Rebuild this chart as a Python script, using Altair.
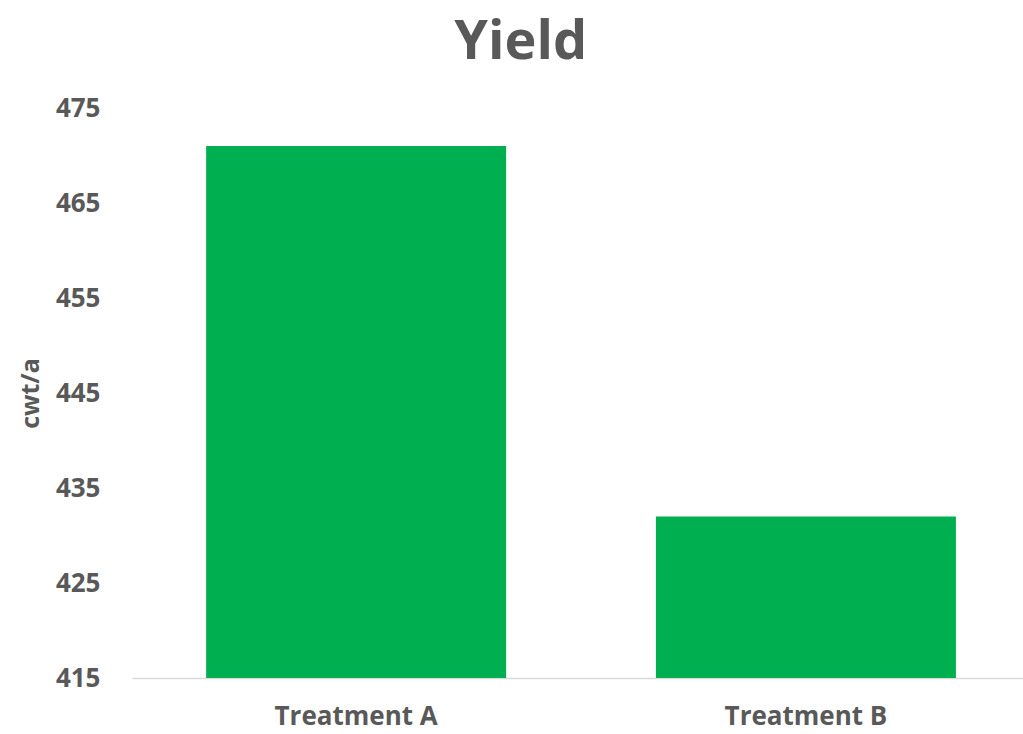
import altair as alt
import pandas as pd

# Yield per treatment (cwt/a)
treatments = ["Treatment A", "Treatment B"]
yields = [471, 432]
y_ticks = [415, 425, 435, 445, 455, 465, 475]

df = pd.DataFrame({"treatment": treatments, "yield": yields})

GREY = "#595959"
FONT = "Open Sans"

bars = alt.Chart(df).mark_bar(color="#00B050", clip=True).encode(
    x=alt.X(
        "treatment:N",
        sort=treatments,
        scale=alt.Scale(paddingInner=0.333, paddingOuter=0.157, align=0.525),
        axis=alt.Axis(
            title=None, labelAngle=0, ticks=False, domainColor="#D9D9D9",
            domainWidth=1.5, labelFont=FONT, labelFontSize=26,
            labelFontWeight="bold", labelColor=GREY, labelPadding=25,
        ),
    ),
    y=alt.Y(
        "yield:Q",
        scale=alt.Scale(domain=[415, 475], nice=False, zero=False),
        axis=alt.Axis(
            title="cwt/a", values=y_ticks, grid=False, ticks=False, domain=False,
            labelFont=FONT, labelFontSize=26, labelFontWeight="bold",
            labelColor=GREY, labelPadding=32, titleFont=FONT, titleFontSize=25,
            titleFontWeight="bold", titleColor=GREY, titlePadding=12,
        ),
    ),
)

chart = (
    bars.properties(
        width=891,
        height=570,
        title=alt.TitleParams(
            "Yield", font=FONT, fontSize=54, fontWeight="bold", color=GREY,
            anchor="middle", frame="bounds", offset=25,
        ),
        padding={"left": 132, "top": 108, "right": 0, "bottom": 56},
        autosize=alt.AutoSizeParams(type="none"),
    )
    .configure(background="white")
    .configure_view(strokeWidth=0, stroke=None)
)

chart.save("out.html", embed_options={"renderer": "svg", "actions": False})
